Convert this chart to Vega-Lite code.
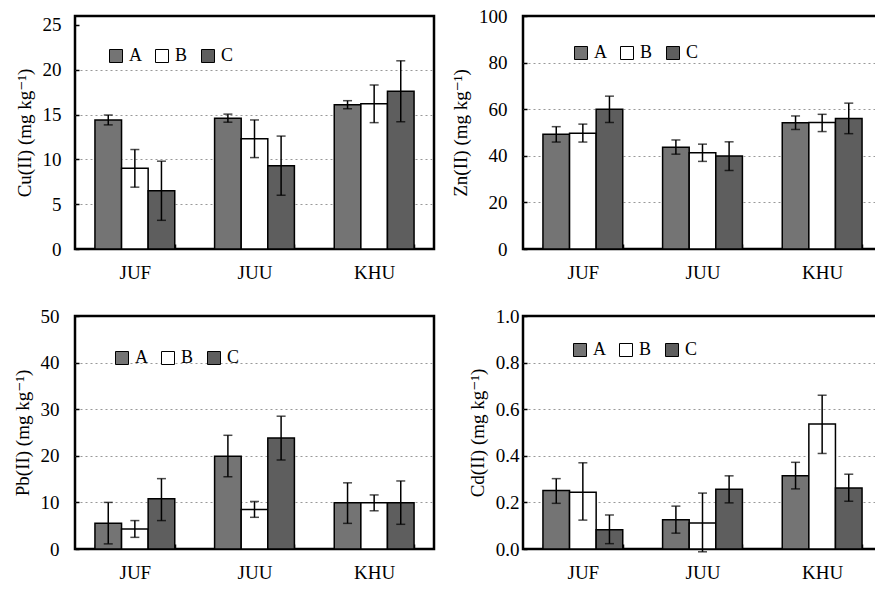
{
  "$schema": "https://vega.github.io/schema/vega-lite/v6.json",
  "padding": {"left": 11, "top": 5, "right": 0, "bottom": 0},
  "background": "white",
  "datasets": {
    "d": [
      {"metal": "Cu", "site": "JUF", "series": "A", "value": 14.4, "lo": 13.85, "hi": 14.95},
      {"metal": "Cu", "site": "JUF", "series": "B", "value": 9.0, "lo": 6.9, "hi": 11.1},
      {"metal": "Cu", "site": "JUF", "series": "C", "value": 6.5, "lo": 3.2, "hi": 9.8},
      {"metal": "Cu", "site": "JUU", "series": "A", "value": 14.6, "lo": 14.15, "hi": 15.05},
      {"metal": "Cu", "site": "JUU", "series": "B", "value": 12.3, "lo": 10.2, "hi": 14.4},
      {"metal": "Cu", "site": "JUU", "series": "C", "value": 9.3, "lo": 6.0, "hi": 12.6},
      {"metal": "Cu", "site": "KHU", "series": "A", "value": 16.1, "lo": 15.65, "hi": 16.55},
      {"metal": "Cu", "site": "KHU", "series": "B", "value": 16.2, "lo": 14.1, "hi": 18.3},
      {"metal": "Cu", "site": "KHU", "series": "C", "value": 17.6, "lo": 14.2, "hi": 21.0},
      {"metal": "Zn", "site": "JUF", "series": "A", "value": 49.2, "lo": 45.9, "hi": 52.5},
      {"metal": "Zn", "site": "JUF", "series": "B", "value": 49.7, "lo": 45.9, "hi": 53.6},
      {"metal": "Zn", "site": "JUF", "series": "C", "value": 60.0, "lo": 54.3, "hi": 65.6},
      {"metal": "Zn", "site": "JUU", "series": "A", "value": 43.7, "lo": 40.7, "hi": 46.8},
      {"metal": "Zn", "site": "JUU", "series": "B", "value": 41.3, "lo": 37.6, "hi": 45.0},
      {"metal": "Zn", "site": "JUU", "series": "C", "value": 39.9, "lo": 33.7, "hi": 46.0},
      {"metal": "Zn", "site": "KHU", "series": "A", "value": 54.2, "lo": 51.3, "hi": 57.1},
      {"metal": "Zn", "site": "KHU", "series": "B", "value": 54.3, "lo": 50.4, "hi": 57.8},
      {"metal": "Zn", "site": "KHU", "series": "C", "value": 56.0, "lo": 49.5, "hi": 62.6},
      {"metal": "Pb", "site": "JUF", "series": "A", "value": 5.5, "lo": 1.1, "hi": 10.0},
      {"metal": "Pb", "site": "JUF", "series": "B", "value": 4.3, "lo": 2.5, "hi": 6.1},
      {"metal": "Pb", "site": "JUF", "series": "C", "value": 10.8, "lo": 6.1, "hi": 15.1},
      {"metal": "Pb", "site": "JUU", "series": "A", "value": 19.9, "lo": 15.5, "hi": 24.4},
      {"metal": "Pb", "site": "JUU", "series": "B", "value": 8.5, "lo": 6.8, "hi": 10.2},
      {"metal": "Pb", "site": "JUU", "series": "C", "value": 23.8, "lo": 19.1, "hi": 28.5},
      {"metal": "Pb", "site": "KHU", "series": "A", "value": 9.9, "lo": 5.5, "hi": 14.2},
      {"metal": "Pb", "site": "KHU", "series": "B", "value": 9.9, "lo": 8.2, "hi": 11.6},
      {"metal": "Pb", "site": "KHU", "series": "C", "value": 9.9, "lo": 5.3, "hi": 14.6},
      {"metal": "Cd", "site": "JUF", "series": "A", "value": 0.251, "lo": 0.196, "hi": 0.302},
      {"metal": "Cd", "site": "JUF", "series": "B", "value": 0.244, "lo": 0.124, "hi": 0.370},
      {"metal": "Cd", "site": "JUF", "series": "C", "value": 0.083, "lo": 0.023, "hi": 0.146},
      {"metal": "Cd", "site": "JUU", "series": "A", "value": 0.126, "lo": 0.068, "hi": 0.184},
      {"metal": "Cd", "site": "JUU", "series": "B", "value": 0.112, "lo": -0.012, "hi": 0.240},
      {"metal": "Cd", "site": "JUU", "series": "C", "value": 0.256, "lo": 0.198, "hi": 0.314},
      {"metal": "Cd", "site": "KHU", "series": "A", "value": 0.314, "lo": 0.258, "hi": 0.372},
      {"metal": "Cd", "site": "KHU", "series": "B", "value": 0.536, "lo": 0.410, "hi": 0.660},
      {"metal": "Cd", "site": "KHU", "series": "C", "value": 0.262, "lo": 0.205, "hi": 0.321}
    ]
  },
  "data": {"name": "d"},
  "columns": 2,
  "spacing": {"row": 21, "column": 14},
  "resolve": {"scale": {"fill": "independent"}, "legend": {"fill": "independent"}},
  "concat": [
    {
      "width": 359, "height": 233,
      "transform": [{"filter": "datum.metal === 'Cu'"}],
      "layer": [
        {"mark": {"type": "bar", "stroke": "black", "strokeWidth": 1.5},
         "encoding": {
           "x": {"field": "site", "type": "nominal", "scale": {"paddingInner": 0.333, "paddingOuter": 0.1667}},
           "xOffset": {"field": "series", "type": "nominal", "scale": {"paddingInner": 0, "paddingOuter": 0}},
           "y": {"field": "value", "type": "quantitative", "scale": {"domain": [0, 25]}, "title": "Cu(II) (mg kg⁻¹)", "axis": {"values": [0, 5, 10, 15, 20, 25], "labelPadding": 18}},
           "fill": {"field": "series", "type": "nominal", "scale": {"domain": ["A", "B", "C"], "range": ["#747474", "#ffffff", "#5e5e5e"]},
             "legend": {"orient": "none", "legendX": 32, "legendY": 31}}
         }},
        {"mark": {"type": "rule", "strokeWidth": 1.5, "color": "black"},
         "encoding": {"x": {"field": "site", "type": "nominal"}, "xOffset": {"field": "series", "type": "nominal"},
           "y": {"field": "lo", "type": "quantitative", "title": "Cu(II) (mg kg⁻¹)"}, "y2": {"field": "hi"}}},
        {"mark": {"type": "tick", "thickness": 1.5, "size": 9, "color": "black", "orient": "horizontal"},
         "encoding": {"x": {"field": "site", "type": "nominal"}, "xOffset": {"field": "series", "type": "nominal"},
           "y": {"field": "lo", "type": "quantitative", "title": "Cu(II) (mg kg⁻¹)"}}},
        {"mark": {"type": "tick", "thickness": 1.5, "size": 9, "color": "black", "orient": "horizontal"},
         "encoding": {"x": {"field": "site", "type": "nominal"}, "xOffset": {"field": "series", "type": "nominal"},
           "y": {"field": "hi", "type": "quantitative", "title": "Cu(II) (mg kg⁻¹)"}}}
      ]
    },
    {
      "width": 359, "height": 233,
      "transform": [{"filter": "datum.metal === 'Zn'"}],
      "layer": [
        {"mark": {"type": "bar", "stroke": "black", "strokeWidth": 1.5},
         "encoding": {
           "x": {"field": "site", "type": "nominal", "scale": {"paddingInner": 0.333, "paddingOuter": 0.1667}},
           "xOffset": {"field": "series", "type": "nominal", "scale": {"paddingInner": 0, "paddingOuter": 0}},
           "y": {"field": "value", "type": "quantitative", "scale": {"domain": [0, 100]}, "title": "Zn(II) (mg kg⁻¹)", "axis": {"values": [0, 20, 40, 60, 80, 100], "labelPadding": 20}},
           "fill": {"field": "series", "type": "nominal", "scale": {"domain": ["A", "B", "C"], "range": ["#747474", "#ffffff", "#5e5e5e"]},
             "legend": {"orient": "none", "legendX": 49, "legendY": 28}}
         }},
        {"mark": {"type": "rule", "strokeWidth": 1.5, "color": "black"},
         "encoding": {"x": {"field": "site", "type": "nominal"}, "xOffset": {"field": "series", "type": "nominal"},
           "y": {"field": "lo", "type": "quantitative", "title": "Zn(II) (mg kg⁻¹)"}, "y2": {"field": "hi"}}},
        {"mark": {"type": "tick", "thickness": 1.5, "size": 9, "color": "black", "orient": "horizontal"},
         "encoding": {"x": {"field": "site", "type": "nominal"}, "xOffset": {"field": "series", "type": "nominal"},
           "y": {"field": "lo", "type": "quantitative", "title": "Zn(II) (mg kg⁻¹)"}}},
        {"mark": {"type": "tick", "thickness": 1.5, "size": 9, "color": "black", "orient": "horizontal"},
         "encoding": {"x": {"field": "site", "type": "nominal"}, "xOffset": {"field": "series", "type": "nominal"},
           "y": {"field": "hi", "type": "quantitative", "title": "Zn(II) (mg kg⁻¹)"}}}
      ]
    },
    {
      "width": 359, "height": 233,
      "transform": [{"filter": "datum.metal === 'Pb'"}],
      "layer": [
        {"mark": {"type": "bar", "stroke": "black", "strokeWidth": 1.5},
         "encoding": {
           "x": {"field": "site", "type": "nominal", "scale": {"paddingInner": 0.333, "paddingOuter": 0.1667}},
           "xOffset": {"field": "series", "type": "nominal", "scale": {"paddingInner": 0, "paddingOuter": 0}},
           "y": {"field": "value", "type": "quantitative", "scale": {"domain": [0, 50]}, "title": "Pb(II) (mg kg⁻¹)", "axis": {"values": [0, 10, 20, 30, 40, 50], "labelPadding": 20}},
           "fill": {"field": "series", "type": "nominal", "scale": {"domain": ["A", "B", "C"], "range": ["#747474", "#ffffff", "#5e5e5e"]},
             "legend": {"orient": "none", "legendX": 38, "legendY": 33}}
         }},
        {"mark": {"type": "rule", "strokeWidth": 1.5, "color": "black"},
         "encoding": {"x": {"field": "site", "type": "nominal"}, "xOffset": {"field": "series", "type": "nominal"},
           "y": {"field": "lo", "type": "quantitative", "title": "Pb(II) (mg kg⁻¹)"}, "y2": {"field": "hi"}}},
        {"mark": {"type": "tick", "thickness": 1.5, "size": 9, "color": "black", "orient": "horizontal"},
         "encoding": {"x": {"field": "site", "type": "nominal"}, "xOffset": {"field": "series", "type": "nominal"},
           "y": {"field": "lo", "type": "quantitative", "title": "Pb(II) (mg kg⁻¹)"}}},
        {"mark": {"type": "tick", "thickness": 1.5, "size": 9, "color": "black", "orient": "horizontal"},
         "encoding": {"x": {"field": "site", "type": "nominal"}, "xOffset": {"field": "series", "type": "nominal"},
           "y": {"field": "hi", "type": "quantitative", "title": "Pb(II) (mg kg⁻¹)"}}}
      ]
    },
    {
      "width": 359, "height": 233,
      "transform": [{"filter": "datum.metal === 'Cd'"}],
      "layer": [
        {"mark": {"type": "bar", "stroke": "black", "strokeWidth": 1.5},
         "encoding": {
           "x": {"field": "site", "type": "nominal", "scale": {"paddingInner": 0.333, "paddingOuter": 0.1667}},
           "xOffset": {"field": "series", "type": "nominal", "scale": {"paddingInner": 0, "paddingOuter": 0}},
           "y": {"field": "value", "type": "quantitative", "scale": {"domain": [0, 1]}, "title": "Cd(II) (mg kg⁻¹)", "axis": {"values": [0, 0.2, 0.4, 0.6, 0.8, 1.0], "format": ".1f", "labelPadding": 8}},
           "fill": {"field": "series", "type": "nominal", "scale": {"domain": ["A", "B", "C"], "range": ["#747474", "#ffffff", "#5e5e5e"]},
             "legend": {"orient": "none", "legendX": 48, "legendY": 25}}
         }},
        {"mark": {"type": "rule", "strokeWidth": 1.5, "color": "black"},
         "encoding": {"x": {"field": "site", "type": "nominal"}, "xOffset": {"field": "series", "type": "nominal"},
           "y": {"field": "lo", "type": "quantitative", "title": "Cd(II) (mg kg⁻¹)"}, "y2": {"field": "hi"}}},
        {"mark": {"type": "tick", "thickness": 1.5, "size": 9, "color": "black", "orient": "horizontal"},
         "encoding": {"x": {"field": "site", "type": "nominal"}, "xOffset": {"field": "series", "type": "nominal"},
           "y": {"field": "lo", "type": "quantitative", "title": "Cd(II) (mg kg⁻¹)"}}},
        {"mark": {"type": "tick", "thickness": 1.5, "size": 9, "color": "black", "orient": "horizontal"},
         "encoding": {"x": {"field": "site", "type": "nominal"}, "xOffset": {"field": "series", "type": "nominal"},
           "y": {"field": "hi", "type": "quantitative", "title": "Cd(II) (mg kg⁻¹)"}}}
      ]
    }
  ],
  "config": {
    "font": "'Liberation Serif', 'Times New Roman', 'DejaVu Serif', serif",
    "view": {"stroke": "black", "strokeWidth": 2.5},
    "axis": {
      "labelFont": "'Liberation Serif', 'Times New Roman', 'DejaVu Serif', serif", "labelColor": "black",
      "titleFont": "'Liberation Serif', 'Times New Roman', 'DejaVu Serif', serif", "titleFontSize": 19, "titleFontWeight": "normal", "titleColor": "black",
      "domain": false, "gridColor": "#999999", "gridDash": [2, 3], "gridWidth": 1
    },
    "axisX": {"title": null, "labelAngle": 0, "labelFontSize": 19, "labelPadding": 19, "tickBand": "extent", "tickSize": -5, "tickColor": "black", "tickWidth": 1.5, "grid": false},
    "axisY": {"labelFontSize": 19, "ticks": true, "tickSize": -4, "tickColor": "black", "tickWidth": 1.5, "titlePadding": 8,
      "gridOpacity": {"condition": {"test": "datum.index == 0 || datum.index == 1", "value": 0}, "value": 1}},
    "legend": {
      "title": null, "direction": "horizontal", "symbolType": "square", "symbolSize": 169,
      "symbolStrokeColor": "black", "symbolStrokeWidth": 1, "labelFont": "'Liberation Serif', 'Times New Roman', 'DejaVu Serif', serif",
      "labelFontSize": 18, "labelColor": "black", "labelOffset": 4, "columnPadding": 11, "padding": 0
    }
  }
}
